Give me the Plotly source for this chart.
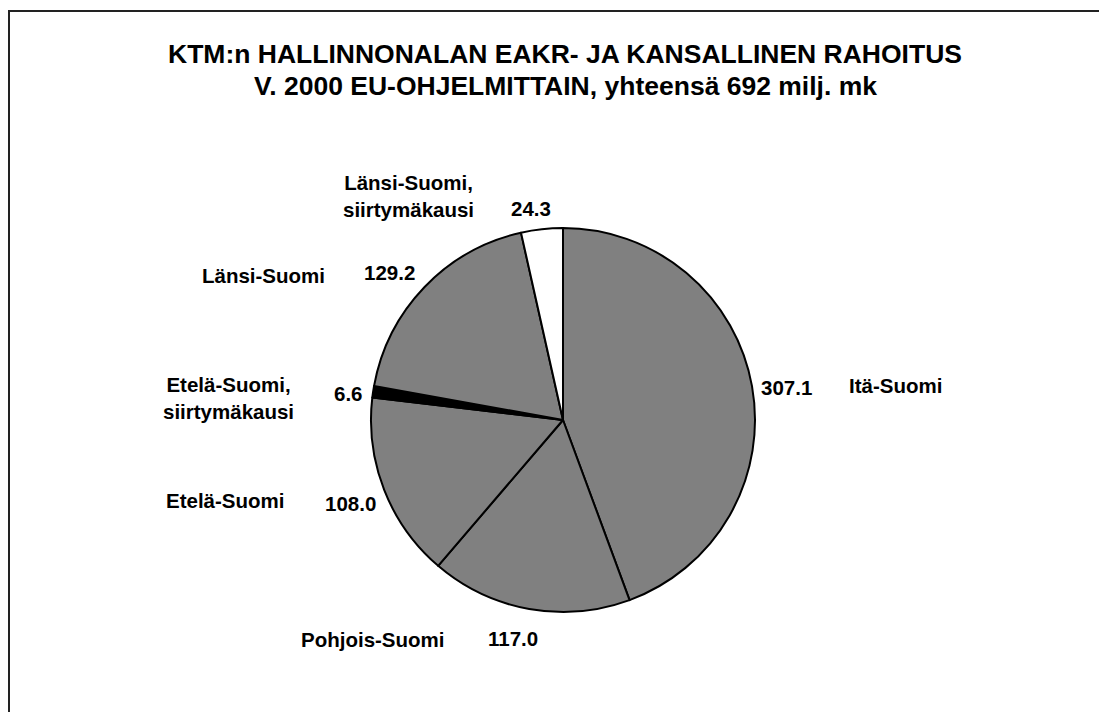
import plotly.graph_objects as go

W, H = 1107, 712
OFF = 8  # page body margin offset

categories = ["Itä-Suomi", "Pohjois-Suomi", "Etelä-Suomi",
              "Etelä-Suomi, siirtymäkausi", "Länsi-Suomi",
              "Länsi-Suomi, siirtymäkausi"]
values = [307.1, 117.0, 108.0, 6.6, 129.2, 24.3]
colors = ["#808080", "#808080", "#808080", "#000000", "#808080", "#ffffff"]

name_labels = ["Itä-Suomi", "Pohjois-Suomi", "Etelä-Suomi",
               "Etelä-Suomi,<br>siirtymäkausi", "Länsi-Suomi",
               "Länsi-Suomi,<br>siirtymäkausi"]
# label anchor positions (window pixels): name, value
name_pos = [(895, 385), (373, 639), (225, 500), (228, 398), (263, 275), (408, 196)]
value_pos = [(786, 387), (513, 638), (350, 503), (349, 393), (389, 272), (531, 209)]

title_lines = ["KTM:n HALLINNONALAN EAKR- JA KANSALLINEN RAHOITUS",
               "V. 2000 EU-OHJELMITTAIN, yhteensä 692 milj. mk"]
title_y = [53.5, 85.5]

cx, cy, r = 563 - OFF, 420 - OFF, 192


def px(x):
    return (x - OFF) / W


def py(y):
    return 1 - (y - OFF) / H


fig = go.Figure(go.Pie(
    labels=categories, values=values, sort=False, direction="clockwise",
    rotation=0, textinfo="none", hoverinfo="label+value",
    marker=dict(colors=colors, line=dict(color="#000000", width=2)),
    domain=dict(x=[(cx - r) / W, (cx + r) / W], y=[1 - (cy + r) / H, 1 - (cy - r) / H]),
    showlegend=False,
))

font = "Liberation Sans, Arial, sans-serif"
ann = []
for i, v in enumerate(values):
    nx, ny = name_pos[i]
    vx, vy = value_pos[i]
    ann.append(dict(x=px(nx), y=py(ny), xref="paper", yref="paper", text=f"<b>{name_labels[i]}</b>",
                    showarrow=False, xanchor="center", yanchor="middle", align="center",
                    font=dict(family=font, size=20.5, color="#000")))
    ann.append(dict(x=px(vx), y=py(vy), xref="paper", yref="paper", text=f"<b>{v:.1f}</b>",
                    showarrow=False, xanchor="center", yanchor="middle",
                    font=dict(family=font, size=20.5, color="#000")))
for i, t in enumerate(title_lines):
    ann.append(dict(x=px(565), y=py(title_y[i]), xref="paper", yref="paper", text=f"<b>{t}</b>",
                    showarrow=False, xanchor="center", yanchor="middle",
                    font=dict(family=font, size=26.5, color="#000")))

fig.update_layout(
    width=W, height=H, margin=dict(l=0, r=0, t=0, b=0),
    paper_bgcolor="white", plot_bgcolor="white",
    annotations=ann,
    shapes=[dict(type="rect", xref="paper", yref="paper", x0=1 / W, x1=1.05, y0=-0.05, y1=1 - 3 / H,
                 line=dict(color="#222", width=2), fillcolor="rgba(0,0,0,0)")],
)
fig.write_html("out.html")
